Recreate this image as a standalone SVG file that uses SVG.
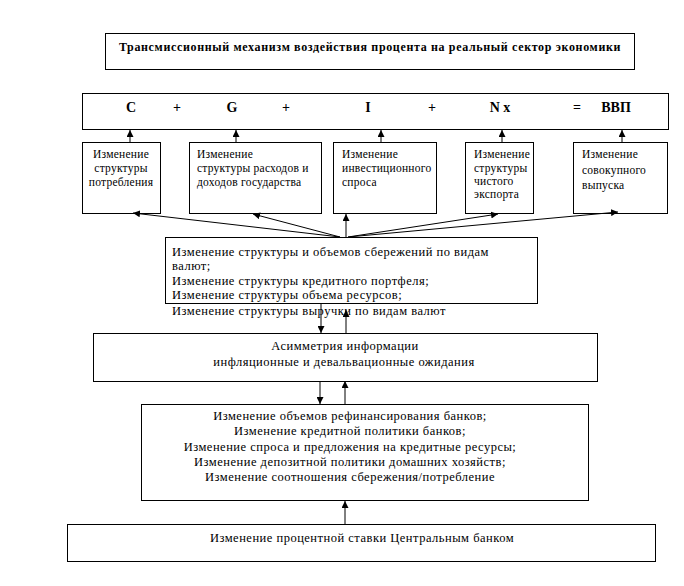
<svg xmlns="http://www.w3.org/2000/svg" width="684" height="586" viewBox="0 0 684 586" font-family="'Liberation Serif', 'Times New Roman', 'DejaVu Serif', serif">
<style>
.box{fill:#fff;stroke:#000;stroke-width:1}
text{font-family:'Liberation Serif','Times New Roman','DejaVu Serif',serif;fill:#000;font-size:12.5px;letter-spacing:0.5px}
.t{font-weight:bold;font-size:12px;letter-spacing:0.65px}
.eq{font-weight:bold;font-size:14px;text-anchor:middle;letter-spacing:0}
.s{font-size:11.5px;letter-spacing:0.25px}
.c{text-anchor:middle}
.ln{stroke:#000;stroke-width:1;fill:none}
</style>
<defs>
<marker id="ah" viewBox="0 0 10 10" refX="10" refY="5" markerWidth="7" markerHeight="7" markerUnits="userSpaceOnUse" orient="auto">
<path d="M0,0 L10,5 L0,10 z" fill="#000"/>
</marker>
</defs>
<rect width="684" height="586" fill="#fff"/>

<g id="title">
<rect class="box" x="105.5" y="33.5" width="529" height="36"/>
<text class="t c" x="370" y="51">Трансмиссионный механизм воздействия процента на реальный сектор экономики</text>
</g>

<g id="gdp">
<rect class="box" x="82.5" y="93.5" width="586" height="36"/>
<text class="eq" x="131" y="112">C</text>
<text class="eq" x="177" y="112">+</text>
<text class="eq" x="232" y="112">G</text>
<text class="eq" x="286" y="112">+</text>
<text class="eq" x="368" y="112">I</text>
<text class="eq" x="432" y="112">+</text>
<text class="eq" x="500" y="112">N x</text>
<text class="eq" x="577" y="112">=</text>
<text class="eq" x="616" y="112">ВВП</text>
</g>

<g id="b1">
<rect class="box" x="82.5" y="142.5" width="78" height="71"/>
<text class="s c" x="121" y="158">Изменение</text>
<text class="s c" x="121" y="172">структуры</text>
<text class="s c" x="121" y="186">потребления</text>
</g>

<g id="b2">
<rect class="box" x="189.5" y="142.5" width="132" height="71"/>
<text class="s" x="197" y="158">Изменение</text>
<text class="s" x="197" y="172">структуры расходов и</text>
<text class="s" x="197" y="186">доходов государства</text>
</g>

<g id="b3">
<rect class="box" x="333.5" y="142.5" width="103" height="71"/>
<text class="s" x="342" y="158">Изменение</text>
<text class="s" x="342" y="172">инвестиционного</text>
<text class="s" x="342" y="186">спроса</text>
</g>

<g id="b4">
<rect class="box" x="465.5" y="142.5" width="68" height="71"/>
<text class="s" x="474" y="158">Изменение</text>
<text class="s" x="474" y="172">структуры</text>
<text class="s" x="474" y="185">чистого</text>
<text class="s" x="474" y="198">экспорта</text>
</g>

<g id="b5">
<rect class="box" x="573.5" y="142.5" width="94" height="71"/>
<text class="s" x="582" y="158">Изменение</text>
<text class="s" x="582" y="174">совокупного</text>
<text class="s" x="582" y="189">выпуска</text>
</g>

<g id="mid">
<rect class="box" x="165.5" y="237.5" width="372" height="66"/>
<text x="172" y="256">Изменение структуры и объемов сбережений по видам</text>
<text x="172" y="270">валют;</text>
<text x="172" y="285">Изменение структуры кредитного портфеля;</text>
<text x="172" y="299">Изменение структуры объема ресурсов;</text>
<text x="172" y="315">Изменение структуры выручки по видам валют</text>
</g>

<g id="asym">
<rect class="box" x="93.5" y="333.5" width="504" height="48"/>
<text class="c" x="345" y="350">Асимметрия информации</text>
<text class="c" x="344" y="366">инфляционные и девальвационные ожидания</text>
</g>

<g id="banks">
<rect class="box" x="141.5" y="404.5" width="447" height="96"/>
<text class="c" x="350" y="420">Изменение объемов рефинансирования банков;</text>
<text class="c" x="350" y="435">Изменение кредитной политики банков;</text>
<text class="c" x="350" y="451">Изменение спроса и предложения на кредитные ресурсы;</text>
<text class="c" x="350" y="466">Изменение депозитной политики домашних хозяйств;</text>
<text class="c" x="350" y="481">Изменение соотношения сбережения/потребление</text>
</g>

<g id="cb">
<rect class="box" x="67.5" y="524.5" width="588" height="37"/>
<text class="c" x="362" y="542">Изменение процентной ставки Центральным банком</text>
</g>

<g id="connectors">
<line class="ln" x1="130" y1="142" x2="130" y2="130" marker-end="url(#ah)"/>
<line class="ln" x1="236" y1="142" x2="236" y2="130" marker-end="url(#ah)"/>
<line class="ln" x1="381" y1="142" x2="381" y2="130" marker-end="url(#ah)"/>
<line class="ln" x1="502" y1="142" x2="502" y2="130" marker-end="url(#ah)"/>
<line class="ln" x1="622" y1="142" x2="622" y2="130" marker-end="url(#ah)"/>
<line class="ln" x1="340" y1="237" x2="133" y2="213" marker-end="url(#ah)"/>
<line class="ln" x1="340" y1="237" x2="253" y2="214" marker-end="url(#ah)"/>
<line class="ln" x1="346" y1="237" x2="346" y2="214" marker-end="url(#ah)"/>
<line class="ln" x1="348" y1="237" x2="498" y2="214" marker-end="url(#ah)"/>
<line class="ln" x1="348" y1="237" x2="618" y2="212" marker-end="url(#ah)"/>
<line class="ln" x1="321" y1="304" x2="321" y2="333" marker-end="url(#ah)"/>
<line class="ln" x1="346" y1="333" x2="346" y2="310" marker-end="url(#ah)"/>
<line class="ln" x1="320" y1="381" x2="320" y2="404" marker-end="url(#ah)"/>
<line class="ln" x1="345" y1="404" x2="345" y2="381" marker-end="url(#ah)"/>
<line class="ln" x1="345" y1="524" x2="345" y2="501" marker-end="url(#ah)"/>
</g>
</svg>
